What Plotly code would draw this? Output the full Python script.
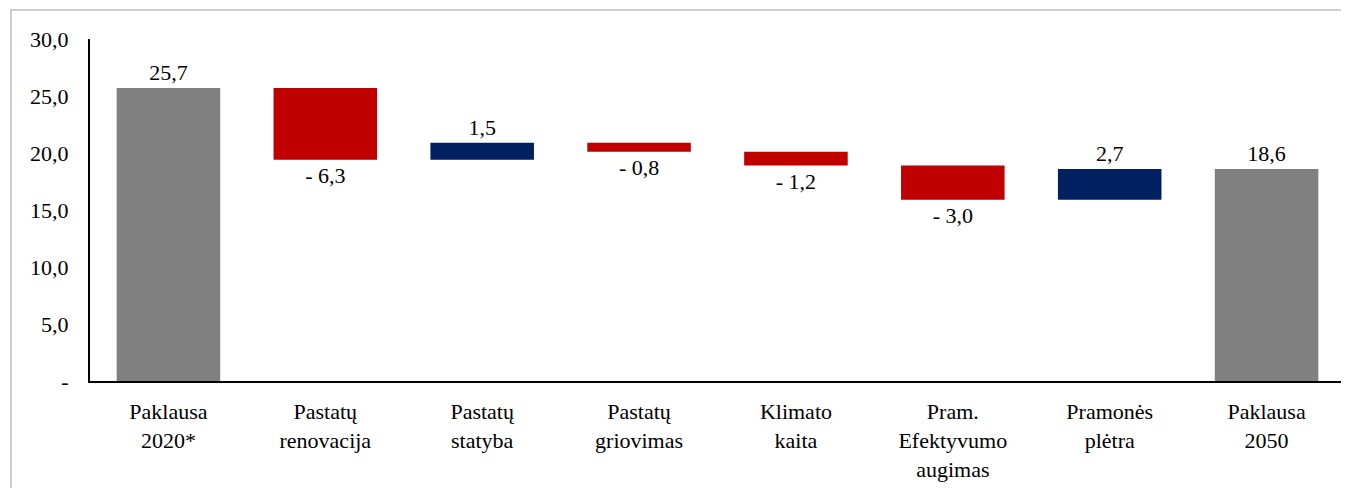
import plotly.graph_objects as go

categories = ["Paklausa<br>2020*", "Pastatų<br>renovacija", "Pastatų<br>statyba", "Pastatų<br>griovimas",
              "Klimato<br>kaita", "Pram.<br>Efektyvumo<br>augimas", "Pramonės<br>plėtra", "Paklausa<br>2050"]
values = [25.7, -6.3, 1.5, -0.8, -1.2, -3.0, 2.7, 18.6]
measures = ["absolute", "relative", "relative", "relative", "relative", "relative", "relative", "total"]
labels = ["25,7", "- 6,3", "1,5", "- 0,8", "- 1,2", "- 3,0", "2,7", "18,6"]
ytick_vals = [0, 5, 10, 15, 20, 25, 30]
ytick_text = ["-", "5,0", "10,0", "15,0", "20,0", "25,0", "30,0"]

FONT = "Liberation Serif"
FS = 22

fig = go.Figure(go.Waterfall(
    x=categories,
    y=values,
    measure=measures,
    text=labels,
    textposition="outside",
    textfont=dict(family=FONT, size=FS, color="#000000"),
    increasing=dict(marker=dict(color="#002060")),
    decreasing=dict(marker=dict(color="#C00000")),
    totals=dict(marker=dict(color="#808080")),
    connector=dict(visible=False),
    width=0.66,
    cliponaxis=False,
    hoverinfo="skip",
))

fig.update_layout(
    width=1341, height=480,
    margin=dict(l=82, r=4, t=31, b=107),
    paper_bgcolor="white", plot_bgcolor="white",
    font=dict(family=FONT, size=FS, color="#000000"),
    showlegend=False,
    separators=", ",
    shapes=[dict(type="rect", xref="paper", yref="paper",
                 x0=-0.063, x1=1.2, y0=-0.6, y1=1.0848,
                 line=dict(color="#bfbfbf", width=1.5), fillcolor="rgba(0,0,0,0)", layer="below")],
)
fig.update_xaxes(showline=True, linecolor="#000000", linewidth=2, showgrid=False,
                 ticks="", ticklabelstandoff=10, tickfont=dict(family=FONT, size=FS))
fig.update_yaxes(range=[0, 30], tickvals=ytick_vals, ticktext=ytick_text, showgrid=False,
                 showline=True, linecolor="#000000", linewidth=2, ticks="",
                 ticklabelstandoff=15, tickfont=dict(family=FONT, size=FS), zeroline=False)

fig.write_html("out.html")
